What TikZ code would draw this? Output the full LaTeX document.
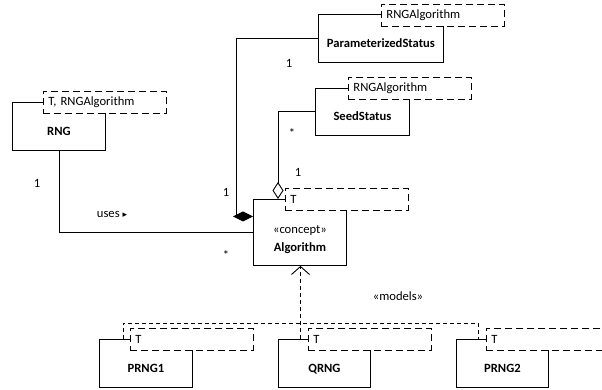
\documentclass[tikz,border=0pt]{standalone}
\usepackage{fontspec}
\setmainfont{Carlito}
\newfontfamily\symfont{DejaVu Sans}
\usetikzlibrary{arrows.meta, positioning, calc}

\begin{document}
\begin{tikzpicture}[
    x=1pt, y=-1pt,
    font=\fontsize{12.6}{15}\selectfont,
    cls/.style={rectangle, draw, line width=0.9pt, anchor=north west, minimum width=93pt, minimum height=48pt, inner sep=0pt, font=\fontsize{12.6}{15}\selectfont\bfseries, text height=20pt, text depth=2pt},
    tmpl/.style={rectangle, draw, dash pattern=on 7pt off 4pt, line width=0.9pt, fill=white, anchor=north west, minimum height=22pt, text width=113pt, inner xsep=5pt, inner ysep=0pt, align=left},
    assoc/.style={line width=0.9pt},
    comp/.style={assoc, -{Diamond[length=20pt, width=10pt]}},
    aggr/.style={assoc, -{Diamond[open, length=17pt, width=11pt]}},
    real/.style={assoc, dash pattern=on 4pt off 3pt},
]
\useasboundingbox (0,0) rectangle (602,390);

% Classes
\node (RNG) at (12,102) [cls] {RNG};
\node (PStatus) at (318,14) [cls, minimum width=125pt] {ParameterizedStatus};
\node (SeedStatus) at (315,88) [cls, minimum width=94pt, minimum height=47pt] {SeedStatus};
\node (Algorithm) at (253,199) [cls, minimum height=66pt, align=center, text height=40pt] {{\mdseries «concept»}\\[3pt]Algorithm};

% Models
\node (PRNGOne) at (99,339) [cls] {PRNG1};
\node (QRNG) at (278,339) [cls, minimum width=92pt] {QRNG};
\node (PRNGTwo) at (456,339) [cls, minimum width=92pt] {PRNG2};

% Association RNG - Algorithm
\draw[assoc] (RNG.south) |- (Algorithm.west);
\node (RNGOne) at (37,183) {1};
\node (usesLabel) at (112,214) {uses {\symfont\small ▸}};
\node (AlgStar) at (226,255) {*};

% Composition
\draw[comp] (PStatus.west) -| ([xshift=-17pt, yshift=16pt]Algorithm.west) -- ([yshift=16pt]Algorithm.west);
\node (PStatusOne) at (289,63) {1};
\node (AlgOne) at (226,192) {1};

% Aggregation
\draw[aggr] (SeedStatus.west) -| ([xshift=25pt]Algorithm.north west);
\node (SeedStar) at (292,133) {*};
\node (SeedOne) at (298,172) {1};

% Realization
\coordinate (bus) at (300.5,323);
\draw[real, -{Straight Barb[length=8pt, width=18pt]}] ([xshift=22.5pt]QRNG.north west) -- (Algorithm.south -| bus);
\draw[real] ([xshift=24pt]PRNGOne.north west) |- (bus) -| ([xshift=22pt]PRNGTwo.north west);
\node (modelsLabel) at (398,296) {«models»};

% Template parameters
\node (RNGT) at ([xshift=31pt, yshift=11pt]RNG.north west) [tmpl] {T, RNGAlgorithm};
\node (PStatusT) at ([xshift=63pt, yshift=10pt]PStatus.north west) [tmpl] {RNGAlgorithm};
\node (SeedStatusT) at ([xshift=33pt, yshift=11pt]SeedStatus.north west) [tmpl] {RNGAlgorithm};
\node (AlgorithmT) at ([xshift=32pt, yshift=11pt]Algorithm.north west) [tmpl] {T};
\node (PRNGOneT) at ([xshift=31pt, yshift=11pt]PRNGOne.north west) [tmpl] {T};
\node (QRNGT) at ([xshift=30pt, yshift=11pt]QRNG.north west) [tmpl] {T};
\node (PRNGTwoT) at ([xshift=30pt, yshift=11pt]PRNGTwo.north west) [tmpl] {T};

\end{tikzpicture}
\end{document}
